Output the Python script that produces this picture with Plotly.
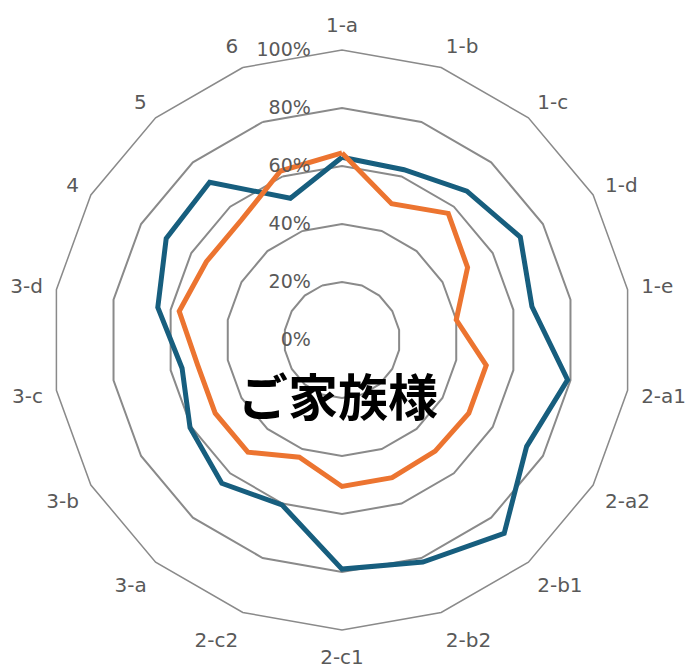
import plotly.graph_objects as go

# Radar axes, clockwise from the top
categories = ["1-a", "1-b", "1-c", "1-d", "1-e", "2-a1", "2-a2", "2-b1", "2-b2",
              "2-c1", "2-c2", "3-a", "3-b", "3-c", "3-d", "4", "5", "6"]

# Scores in percent
series_blue = [63, 62.5, 67, 71, 66.5, 79, 73.5, 87, 81.5,
               79, 60.5, 64.5, 60.5, 56, 64.5, 70, 71, 52]
series_orange = [64.5, 50, 57, 50, 40, 50.5, 50.5, 50, 50.5,
                 50.5, 43, 50.5, 50.5, 50.5, 57, 54, 54, 62]

radial_ticks = [0, 20, 40, 60, 80, 100]
radial_labels = ["0%", "20%", "40%", "60%", "80%", "100%"]

center_title = "ご家族様"

BLUE = "#175e7e"
ORANGE = "#ec7430"
GRID = "#8a8a8a"
TEXT = "#595959"
FONT = "DejaVu Sans, sans-serif"


def closed(values):
    return list(values) + [values[0]]


fig = go.Figure()
fig.add_trace(go.Scatterpolar(
    r=closed(series_blue), theta=closed(categories), mode="lines",
    line=dict(color=BLUE, width=5), showlegend=False,
))
fig.add_trace(go.Scatterpolar(
    r=closed(series_orange), theta=closed(categories), mode="lines",
    line=dict(color=ORANGE, width=5), showlegend=False,
))

fig.update_layout(
    width=687, height=669,
    margin=dict(l=52, r=55, t=50, b=39),
    paper_bgcolor="white",
    plot_bgcolor="white",
    font=dict(family=FONT, size=20, color=TEXT),
    polar=dict(
        bgcolor="white",
        gridshape="linear",
        angularaxis=dict(
            rotation=90, direction="clockwise",
            showgrid=False, showline=True,
            linecolor=GRID, linewidth=1.5,
            ticks="outside", ticklen=9, tickcolor="rgba(0,0,0,0)",
            tickfont=dict(family=FONT, size=20, color=TEXT),
        ),
        radialaxis=dict(
            range=[0, 100], angle=90, side="counterclockwise",
            tickvals=radial_ticks, ticktext=radial_labels,
            showline=False, ticks="outside", ticklen=24,
            tickcolor="rgba(0,0,0,0)",
            gridcolor=GRID, gridwidth=1.5,
            tickfont=dict(family=FONT, size=19, color=TEXT),
            tickangle=90,
        ),
    ),
    annotations=[dict(
        text=f"<b>{center_title}</b>", x=0.493, y=0.407, xref="paper", yref="paper",
        showarrow=False, xanchor="center", yanchor="middle",
        font=dict(family="Noto Sans CJK JP", size=50, color="black"),
    )],
)

fig.write_html("out.html")
